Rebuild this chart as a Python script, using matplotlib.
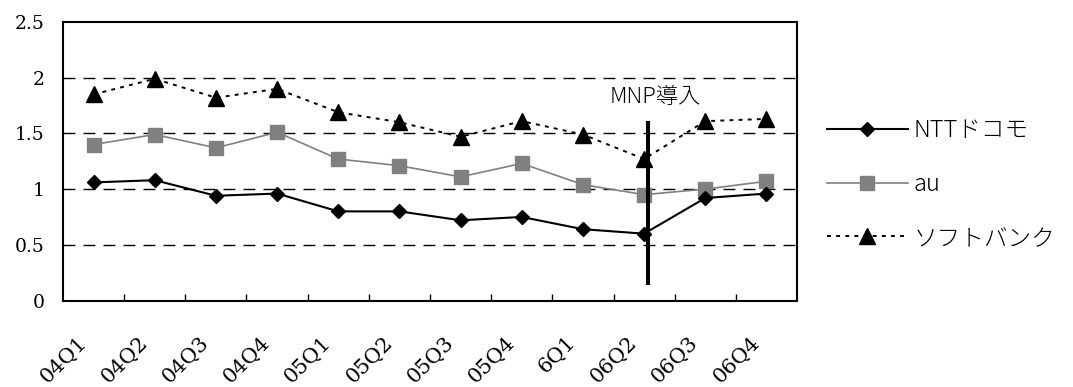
import matplotlib.pyplot as plt
from matplotlib.transforms import ScaledTranslation
import numpy as np

quarters = ["04Q1", "04Q2", "04Q3", "04Q4", "05Q1", "05Q2",
            "05Q3", "05Q4", "6Q1", "06Q2", "06Q3", "06Q4"]
docomo = [1.06, 1.08, 0.94, 0.96, 0.80, 0.80, 0.72, 0.75, 0.64, 0.60, 0.92, 0.96]
au = [1.40, 1.49, 1.37, 1.51, 1.27, 1.21, 1.11, 1.23, 1.04, 0.95, 1.00, 1.07]
softbank = [1.85, 1.99, 1.82, 1.90, 1.69, 1.60, 1.47, 1.61, 1.49, 1.27, 1.61, 1.63]
y_ticks = [0, 0.5, 1, 1.5, 2, 2.5]
mnp_x = 9.06
mnp_span = (0.14, 1.61)

jp = ["Noto Sans CJK JP", "DejaVu Sans"]
num_font = "DejaVu Serif"

fig = plt.figure(figsize=(10.73, 3.87), dpi=100)
ax = fig.add_axes([0.0587, 0.2235, 0.6841, 0.7197])

x = np.arange(len(quarters))
ax.plot(x, docomo, color="black", lw=1.5, marker="D", ms=7.5,
        mfc="black", mec="black", label="NTTドコモ", zorder=4)
ax.plot(x, au, color="#808080", lw=1.2, marker="s", ms=10.5,
        mfc="#808080", mec="#808080", label="au", zorder=3)
ax.plot(x, softbank, color="black", lw=1.4, ls=(0, (2, 2.7)), marker="^",
        ms=12, mfc="black", mec="black", label="ソフトバンク", zorder=3)

# MNP introduction marker
ax.vlines(mnp_x, *mnp_span, color="black", lw=2.9, zorder=5)
ax.text(mnp_x + 0.13, 1.83, "MNP導入", ha="center", va="center",
        fontsize=16, family=jp, weight="light")

ax.set_xlim(-0.5, len(quarters) - 0.5)
ax.set_ylim(0, 2.5)
ax.set_yticks(y_ticks)
ax.set_yticklabels([f"{v:g}" for v in y_ticks], family=num_font, fontsize=13.5)
ax.tick_params(axis="y", length=0, pad=13)

ax.set_xticks(x)
ax.set_xticklabels(quarters, family=num_font, fontsize=15, rotation=45,
                   ha="right", va="center", rotation_mode="anchor")
ax.tick_params(axis="x", which="major", length=0, pad=28)
ax.set_xticks(np.arange(0.5, len(quarters) - 1, 1), minor=True)
ax.tick_params(axis="x", which="minor", direction="in", length=5, width=1)
shift = ScaledTranslation(-10 / 100, 0, fig.dpi_scale_trans)
for lab in ax.get_xticklabels():
    lab.set_transform(lab.get_transform() + shift)

for yv in y_ticks[1:-1]:
    ax.axhline(yv, color="black", lw=1, ls=(0, (8.6, 5.8)), zorder=1)

for s in ax.spines.values():
    s.set_linewidth(1.5)

ax.legend(loc="upper left", bbox_to_anchor=(827 / 1073, 1 - 118 / 387),
          bbox_transform=fig.transFigure, frameon=False, borderpad=0,
          borderaxespad=0, handlelength=3.43, handletextpad=0.22,
          labelspacing=1.22, prop={"family": jp, "size": 17, "weight": "light"})

fig.savefig("out.png", dpi=100)
